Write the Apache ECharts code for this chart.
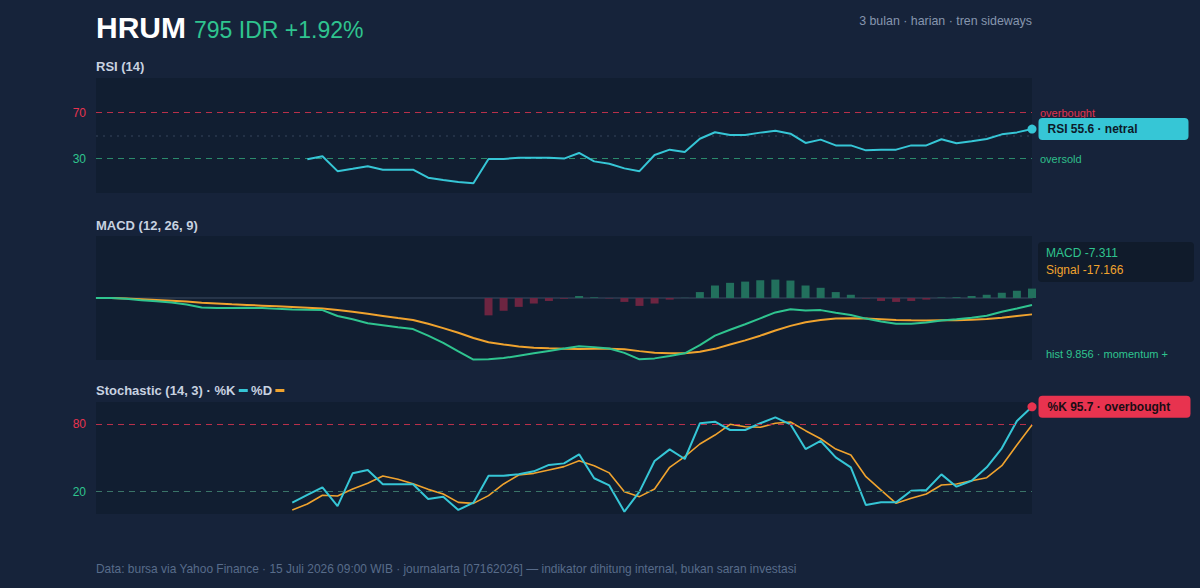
<!DOCTYPE html>
<html>
<head>
<meta charset="utf-8">
<script src="https://cdn.jsdelivr.net/npm/echarts@6/dist/echarts.min.js"></script>
<style>
  html, body { margin: 0; padding: 0; background: #16233a; }
  #chart { width: 1200px; height: 588px; }
</style>
</head>
<body>
<div id="chart"></div>
<script>
// 63 sesi harian (3 bulan)
const days = Array.from({ length: 63 }, (_, i) => "H" + (i + 1));

const rsi = [
  null, null, null, null, null, null, null, null, null, null, null, null, null, null,
  29.3, 32, 19, 21, 23.2, 20.3, 20.3, 20.3, 13.3, 11.3, 9.6, 8.4,
  29.6, 29.6, 30.7, 30.7, 30.7, 29.9, 34.8, 27.5, 25.5, 21.4, 19,
  33, 37.7, 35.7, 47.2, 52.8, 50.4, 50.4, 52.5, 54.2, 51.6, 43.5, 46.4,
  41.4, 41.4, 37.1, 37.7, 37.7, 41.4, 41.4, 46.7, 43.2, 45, 47, 51, 52.7, 55.6
];

const macd = [
  0, 0, -0.7, -2.4, -3.4, -4.8, -6.9, -10, -10.6, -10.6, -10.2, -10.6, -11.4, -12, -12.4, -12.7,
  -18.9, -22.3, -26.4, -28.5, -30.6, -32.6, -39.5, -47, -56, -64.6,
  -64.3, -63, -60.5, -58, -55.5, -53, -50.5, -51.5, -53, -57.5, -64.3,
  -63.3, -60.8, -58, -49.5, -39.5, -33.3, -27.5, -21.3, -15.1, -11.7, -13, -12.7,
  -15.5, -17.9, -21.6, -24.7, -27.1, -27.1, -25.8, -23.7, -22.3, -20.6, -18.6, -14.4, -11, -7.311
];

const signal = [
  0, 0, -0.5, -1.2, -2, -2.8, -3.7, -5, -5.8, -6.6, -7.3, -8, -8.7, -9.4, -10.2, -11,
  -12.7, -14.5, -16.6, -18.8, -21, -23, -27, -31.6, -36.5, -42,
  -46.4, -48.8, -50.8, -52.2, -52.8, -53.3, -53.4, -53.3, -53.3, -53.8, -55.7,
  -57.4, -58, -58, -56.4, -53.3, -48.8, -44.4, -39.5, -34, -29.2, -25.4, -23,
  -21.6, -21.3, -21.6, -22.3, -23, -23.4, -23.7, -23.4, -23.4, -22.7, -22, -20.6, -18.9, -17.166
];

const hist = [
  null, null, null, null, null, null, null, null, null, null, null, null, null,
  null, null, null, null, null, null, null, null, null, null, null, null, null,
  -18.2, -13.4, -9.3, -5.8, -3.1, -0.8, 2.1, 0.7, -0.5, -4.1, -8.3,
  -5.8, -1.7, 0.2, 6.2, 13.1, 15.9, 17.2, 18.6, 19.3, 18.3, 13.1, 10.7,
  6.2, 3.4, -0.5, -3.1, -4.1, -3.1, -1.7, 0.5, 0.8, 2.1, 3.4, 5.5, 7.6, 9.856
];

const stochK = [
  null, null, null, null, null, null, null, null, null, null, null, null, null,
  10.1, 17, 23.8, 7.1, 36.3, 39.3, 26.5, 26.5, 26.5, 13.4, 15.5, 3.6, 10.1,
  34.2, 34.2, 35.4, 38.1, 43.8, 45.2, 53.3, 31.9, 25.5, 2.1, 20,
  47.3, 57.7, 49.1, 81, 82.4, 75, 75, 81, 86.3, 80.1, 58, 65.2,
  50.6, 41.7, 8, 10.4, 10.4, 20.8, 21.4, 35.4, 24.4, 29.7, 41.7, 58.7, 83, 95.7
];

const stochD = [
  null, null, null, null, null, null, null, null, null, null, null, null, null,
  3.6, 8.9, 16.7, 16.1, 22.3, 27.4, 33.9, 31, 27.1, 22, 17.9, 10.4, 9.5,
  16.4, 26.8, 34.8, 36.3, 39.3, 42.3, 47.6, 43.1, 36.7, 19.8, 15.5,
  22.3, 41.7, 51.2, 62.5, 70.5, 80.1, 77.9, 77.4, 81, 82.1, 74.4, 67.2,
  58, 52.7, 33.3, 21.4, 9.5, 14, 17.9, 25.9, 26.8, 29.7, 32.4, 43.1, 61.6, 79.5
];

const rsiLevels = [70, 30];
const stochLevels = [80, 20];

const C = {
  bg: "#16233a",
  plot: "#111e31",
  cyan: "#36c6d6",
  green: "#2fc48f",
  orange: "#f0a32e",
  red: "#e8334f",
  redLine: "#b8304a",
  greenLine: "#2b8a6c",
  title: "#c8d2e0",
  muted: "#8696ae",
};
const FONT = "'Liberation Sans', Arial, sans-serif";
const last = days.length - 1;

const chart = echarts.init(document.getElementById("chart"), null, { renderer: "svg" });

const grid = (top, height) => ({
  left: 96, right: 168, top, height,
  show: true, backgroundColor: C.plot, borderWidth: 0,
});

const levelLabel = (v) => {
  const n = Number(v);
  if (n === 70 || n === 80) return C.red;
  if (n === 30 || n === 20) return C.green;
  return "transparent";
};

const xCat = (gridIndex, zero) => ({
  type: "category", gridIndex, data: days, boundaryGap: false,
  axisLabel: { show: false }, axisTick: { show: false },
  axisLine: zero ? { show: true, onZero: true, lineStyle: { color: "#2e3c52", width: 1.5 } } : { show: false },
});

const yLevel = (gridIndex, keep) => ({
  type: "value", gridIndex, min: 0, max: 100, interval: 10,
  splitLine: { show: false }, axisLine: { show: false }, axisTick: { show: false },
  axisLabel: {
    margin: 10, fontSize: 12, fontFamily: FONT,
    formatter: (v) => (keep.includes(v) ? String(v) : ""),
    color: levelLabel,
  },
});

const dashed = (y, color, label, labelColor) => ({
  yAxis: y,
  lineStyle: { color, type: [6, 5], width: 1.2 },
  label: label
    ? { show: true, position: "end", distance: 8, formatter: label, color: labelColor, fontSize: 11, fontFamily: FONT }
    : { show: false },
});

const badge = (bg, fg, width) => ({
  show: true, position: "right", distance: 2,
  backgroundColor: bg, color: fg, fontWeight: "bold", fontSize: 12,
  padding: [5, 9], width, borderRadius: 4, fontFamily: FONT,
});

chart.setOption({
  backgroundColor: C.bg,
  animation: false,
  textStyle: { fontFamily: FONT },
  grid: [grid(78, 115), grid(236, 124), grid(402, 112)],
  xAxis: [xCat(0, false), xCat(1, true), xCat(2, false)],
  yAxis: [
    yLevel(0, rsiLevels),
    {
      type: "value", gridIndex: 1, min: -65, max: 65,
      splitLine: { show: false }, axisLine: { show: false },
      axisTick: { show: false }, axisLabel: { show: false },
    },
    yLevel(2, stochLevels),
  ],
  series: [
    {
      name: "RSI", type: "line", xAxisIndex: 0, yAxisIndex: 0, data: rsi,
      showSymbol: false, lineStyle: { color: C.cyan, width: 2 }, z: 5,
      markLine: {
        silent: true, symbol: "none",
        data: [
          dashed(70, C.redLine, "overbought", "#e0334f"),
          dashed(30, C.greenLine, "oversold", "#2fbf8a"),
          { yAxis: 50, lineStyle: { color: "#2a394e", type: [2, 5], width: 1.5 }, label: { show: false } },
        ],
      },
    },
    {
      type: "scatter", xAxisIndex: 0, yAxisIndex: 0,
      data: [[days[last], rsi[last]]], symbolSize: 9, z: 6,
      itemStyle: { color: C.cyan, opacity: 1 },
      label: Object.assign(badge(C.cyan, "#0d1a2a", 132), {
        formatter: "RSI " + rsi[last].toFixed(1) + " · netral",
      }),
    },
    {
      name: "hist", type: "bar", xAxisIndex: 1, yAxisIndex: 1, data: hist,
      barWidth: 8, clip: false,
      itemStyle: { color: (p) => (p.value >= 0 ? "#22705d" : "#6d2541") },
    },
    {
      name: "MACD", type: "line", xAxisIndex: 1, yAxisIndex: 1, data: macd,
      showSymbol: false, lineStyle: { color: C.green, width: 2 }, z: 4,
    },
    {
      name: "Signal", type: "line", xAxisIndex: 1, yAxisIndex: 1, data: signal,
      showSymbol: false, lineStyle: { color: C.orange, width: 2 }, z: 3,
    },
    {
      name: "%D", type: "line", xAxisIndex: 2, yAxisIndex: 2, data: stochD,
      showSymbol: false, lineStyle: { color: C.orange, width: 1.6 }, z: 3,
      markLine: {
        silent: true, symbol: "none",
        data: [dashed(80, C.redLine), dashed(20, "#3a7468")],
      },
    },
    {
      name: "%K", type: "line", xAxisIndex: 2, yAxisIndex: 2, data: stochK,
      showSymbol: false, lineStyle: { color: C.cyan, width: 2 }, z: 4,
    },
    {
      type: "scatter", xAxisIndex: 2, yAxisIndex: 2,
      data: [[days[last], stochK[last]]], symbolSize: 9, z: 6,
      itemStyle: { color: C.red, opacity: 1 },
      label: Object.assign(badge(C.red, "#1a0d14", 134), {
        formatter: "%K " + stochK[last].toFixed(1) + " · overbought",
      }),
    },
  ],
  graphic: [
    { type: "text", left: 96, top: 12, style: { text: "HRUM", fill: "#ffffff", font: "bold 30px " + FONT } },
    { type: "text", left: 194, top: 18, style: { text: "795 IDR +1.92%", fill: C.green, font: "23px " + FONT } },
    { type: "text", right: 168, top: 15, style: { text: "3 bulan · harian · tren sideways", fill: C.muted, font: "12.4px " + FONT } },
    { type: "text", left: 96, top: 60, style: { text: "RSI (14)", fill: C.title, font: "bold 13px " + FONT } },
    { type: "text", left: 96, top: 219, style: { text: "MACD (12, 26, 9)", fill: C.title, font: "bold 13px " + FONT } },
    {
      type: "text", left: 96, top: 384,
      style: {
        text: "{t|Stochastic (14, 3) · %K} {k|} {t|%D} {d|}",
        rich: {
          t: { fill: C.title, font: "bold 13px " + FONT },
          k: { backgroundColor: C.cyan, width: 9, height: 3 },
          d: { backgroundColor: C.orange, width: 9, height: 3 },
        },
      },
    },
    {
      type: "group", left: 1038, top: 242,
      children: [
        { type: "rect", shape: { x: 0, y: 0, width: 156, height: 40, r: 4 }, style: { fill: "#101b2b" } },
        { type: "text", x: 8, y: 5, style: { text: "MACD " + macd[last].toFixed(3), fill: C.green, font: "12px " + FONT } },
        { type: "text", x: 8, y: 22, style: { text: "Signal " + signal[last].toFixed(3), fill: C.orange, font: "12px " + FONT } },
      ],
    },
    { type: "text", left: 1046, top: 348, style: { text: "hist " + hist[last].toFixed(3) + " · momentum +", fill: C.green, font: "11px " + FONT } },
    {
      type: "text", left: 96, top: 563,
      style: {
        text: "Data: bursa via Yahoo Finance · 15 Juli 2026 09:00 WIB · journalarta [07162026] — indikator dihitung internal, bukan saran investasi",
        fill: "#586c8a", font: "11.95px " + FONT,
      },
    },
  ],
});
</script>
</body>
</html>
